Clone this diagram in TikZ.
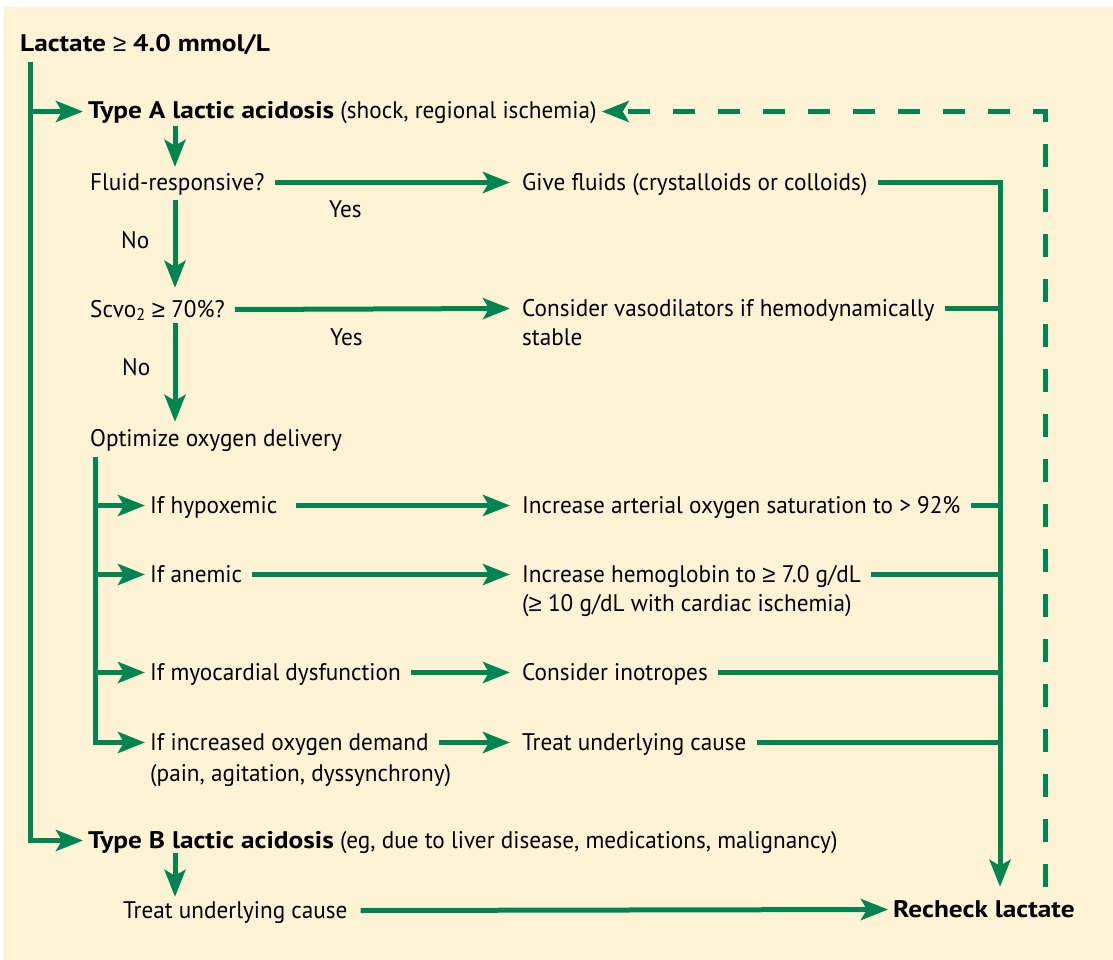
\documentclass[tikz,border=0pt]{standalone}
\usepackage{fontspec}
\setmainfont{PT Sans}[FakeStretch=0.967, BoldFeatures={FakeStretch=1.14}]
\newfontfamily\symfont{Liberation Sans}
\newcommand{\gesym}{{\symfont\mdseries ≥}}
\usetikzlibrary{arrows.meta,calc}
\definecolor{gr}{RGB}{0,133,80}
\definecolor{cream}{RGB}{255,243,214}
\begin{document}
\begin{tikzpicture}[x=1pt,y=-1pt,
  txt/.style={anchor=base west, inner xsep=5pt, inner ysep=0pt, text height=15pt, text depth=0pt,
              font=\fontsize{24}{29}\selectfont},
  ln/.style={draw=gr, line width=5pt},
  arr/.style={ln, -{Stealth[length=27pt,width=21pt,inset=6pt]}},
  dsh/.style={arr, dash pattern=on 22.5pt off 22.5pt}]
\useasboundingbox (0,0) rectangle (1113,960);
\fill[cream] (4,7) rectangle (1113,960);
% column coordinates
\coordinate (xm) at (30,0);
\coordinate (xc) at (175,0);
\coordinate (xs) at (95,0);
\coordinate (xr) at (1000,0);
\coordinate (xd) at (1045,0);
% texts
\node[txt] (lactate) at (15,52) {\textbf{Lactate \gesym{} 4.0 mmol/L}};
\node[txt] (typeA) at (83,119) {\textbf{Type A lactic acidosis} (shock, regional ischemia)};
\node[txt] (fluid) at (85,190) {Fluid-responsive?};
\node[txt] (give) at (517,190) {Give fluids (crystalloids or colloids)};
\node[txt] (yesA) at (324,217) {Yes};
\node[txt] (noA) at (116,248) {No};
\node[txt] (scvo) at (85,317) {Scvo\textsubscript{2} \gesym{} 70\%?};
\node[txt] (vaso) at (517,316) {Consider vasodilators if hemodynamically};
\node[txt] (vaso2) at (517,345) {stable};
\node[txt] (yesB) at (325,345) {Yes};
\node[txt] (noB) at (117,375) {No};
\node[txt] (optim) at (85,446) {Optimize oxygen delivery};
\node[txt] (hypox) at (145,513) {If hypoxemic};
\node[txt] (anem) at (145,582) {If anemic};
\node[txt] (myo) at (145,680) {If myocardial dysfunction};
\node[txt] (demand) at (145,750) {If increased oxygen demand};
\node[txt] (demand2) at (145,781) {(pain, agitation, dyssynchrony)};
\node[txt] (incsat) at (517,513) {Increase arterial oxygen saturation to > 92\%};
\node[txt] (inchb) at (517,582) {Increase hemoglobin to \gesym{} 7.0 g/dL};
\node[txt] (inchb2) at (517,611) {(\gesym{} 10 g/dL with cardiac ischemia)};
\node[txt] (inotr) at (517,680) {Consider inotropes};
\node[txt] (treatA) at (517,750) {Treat underlying cause};
\node[txt] (typeB) at (83,848) {\textbf{Type B lactic acidosis} (eg, due to liver disease, medications, malignancy)};
\node[txt] (treatB) at (118,918) {Treat underlying cause};
\node[txt] (recheck) at (888,917) {\textbf{Recheck lactate}};
% main trunk
\draw[arr] ([yshift=-10pt]lactate.south -| xm) -- (xm |- typeB.west) -- (typeB.west);
\draw[arr] (xm |- typeA.west) -- (typeA.west);
% type A chain
\draw[arr] ([yshift=-7pt]typeA.south -| xc) -- ([yshift=8pt]fluid.north -| xc);
\draw[arr] ([xshift=5pt]fluid.east) -- ([xshift=-7pt]give.west);
\draw[arr] ([yshift=-10pt]fluid.south -| xc) -- ([yshift=14pt]scvo.north -| xc);
\draw[arr] ([xshift=5pt]scvo.east) -- ([xshift=-7pt]vaso.west);
\draw[arr] ([yshift=-6pt]scvo.south -| xc) -- ([yshift=9pt]optim.north -| xc);
% optimize branches
\draw[arr] ([yshift=-11pt]optim.south -| xs) -- (xs |- demand.west) -- (demand.west);
\draw[arr] (xs |- hypox.west) -- (hypox.west);
\draw[arr] (xs |- anem.west) -- (anem.west);
\draw[arr] (xs |- myo.west) -- (myo.west);
\draw[arr] ([xshift=14pt]hypox.east) -- ([xshift=-7pt]incsat.west);
\draw[arr] ([xshift=5pt]anem.east) -- ([xshift=-7pt]inchb.west);
\draw[arr] ([xshift=5pt]myo.east) -- ([xshift=-7pt]inotr.west);
\draw[arr] ([xshift=5pt]demand.east) -- ([xshift=-7pt]treatA.west);
% right collector
\draw[arr] ([xshift=5pt]give.east) -- (xr |- give.east) -- ([yshift=15pt]recheck.north -| xr);
\draw[ln] ([xshift=5pt]vaso.east) -- (xr |- vaso.east);
\draw[ln] ([xshift=5pt]incsat.east) -- (xr |- incsat.east);
\draw[ln] ([xshift=5pt]inchb.east) -- (xr |- inchb.east);
\draw[ln] ([xshift=5pt]inotr.east) -- (xr |- inotr.east);
\draw[ln] ([xshift=5pt]treatA.east) -- (xr |- treatA.east);
% type B chain
\draw[arr] ([yshift=-5pt]typeB.south -| xc) -- ([yshift=6pt]treatB.north -| xc);
\draw[arr] ([xshift=8pt]treatB.east) -- (recheck.west);
% feedback
\draw[dsh] ([yshift=15pt]recheck.north -| xd) -- (xd |- typeA.east) -- (typeA.east);
\end{tikzpicture}
\end{document}
